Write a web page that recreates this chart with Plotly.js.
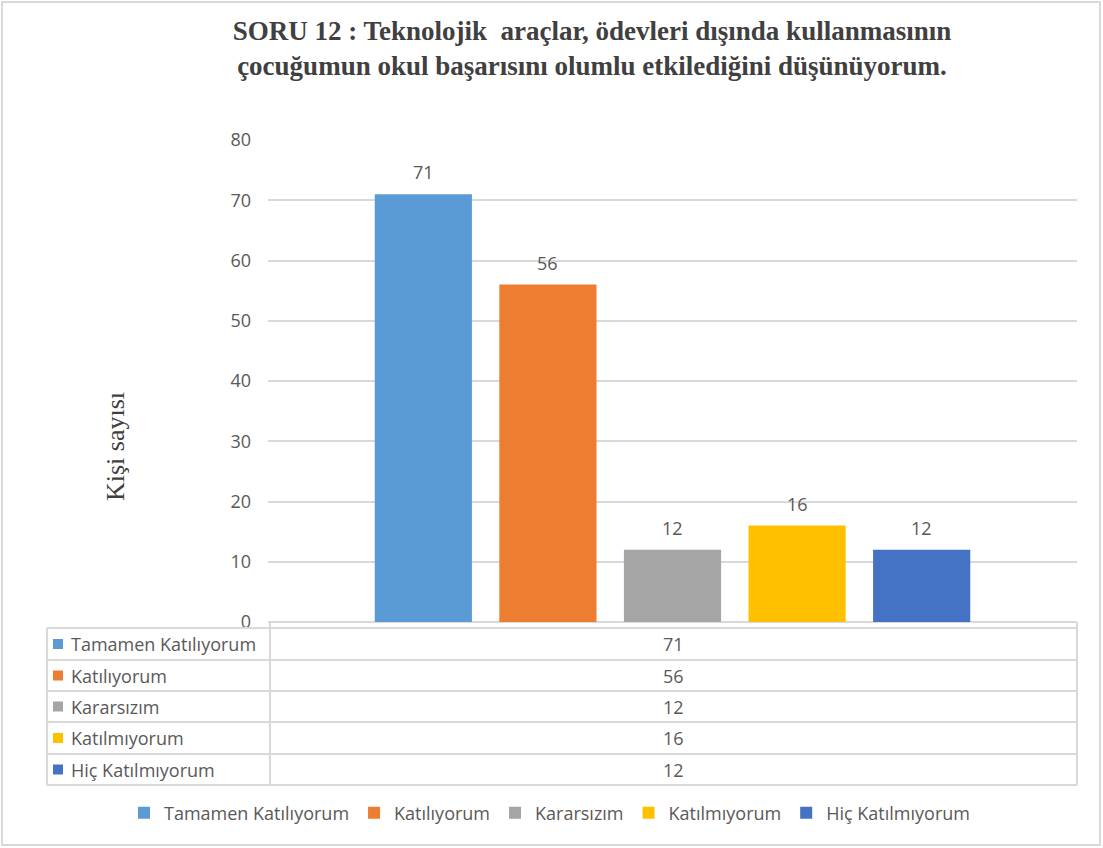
<!DOCTYPE html>
<html>
<head>
<meta charset="utf-8">
<script src="https://cdn.plot.ly/plotly-3.0.1.min.js"></script>
<style>html,body{margin:0;padding:0;background:#fff;}#chart{width:1103px;height:848px;}</style>
</head>
<body>
<div id="chart"></div>
<script>
const categories = ['Tamamen Katılıyorum', 'Katılıyorum', 'Kararsızım', 'Katılmıyorum', 'Hiç Katılmıyorum'];
const values = [71, 56, 12, 16, 12];
const colors = ['#5b9bd5', '#ed7d31', '#a5a5a5', '#ffc000', '#4472c4'];
const yTicks = [0, 10, 20, 30, 40, 50, 60, 70, 80];
const groupLabel = ['SORU 12'];

const W = 1103, H = 848;
const L = 268, R = 1077, T = 140, B = 622;
const px = x => (x - L) / (R - L);
const py = y => (B - y) / (B - T);

const font = 'Open Sans, Noto Sans, sans-serif';
const textColor = '#595959';
const lineColor = '#d9d9d9';
const bargap = 0.23;

const traces = categories.map((c, i) => ({
  type: 'bar',
  name: c,
  x: groupLabel,
  y: [values[i]],
  marker: { color: colors[i] },
  hoverinfo: 'name+y'
}));

const shapes = [];
const annotations = [];

// data labels above bars (positioned on the category axis using group offsets)
const slot = (1 - bargap) / categories.length;
values.forEach((v, i) => {
  annotations.push({
    xref: 'x', yref: 'y', x: (i - (categories.length - 1) / 2) * slot, y: v,
    yshift: 22, yanchor: 'middle', xanchor: 'center',
    text: String(v), showarrow: false,
    font: { family: font, size: 18, color: textColor }
  });
});

// data table
const rowTops = [628, 660, 691, 722, 754, 785];
const tblLeft = 47, tblMid = 270, tblRight = 1077;
rowTops.forEach((y) => {
  shapes.push({ type: 'line', xref: 'paper', yref: 'paper', x0: px(tblLeft), x1: px(tblRight), y0: py(y), y1: py(y), line: { color: lineColor, width: 2 } });
});
shapes.push({ type: 'line', xref: 'paper', yref: 'paper', x0: px(tblLeft), x1: px(tblLeft), y0: py(rowTops[0]), y1: py(rowTops[5]), line: { color: lineColor, width: 2 } });
shapes.push({ type: 'line', xref: 'paper', yref: 'paper', x0: px(tblMid), x1: px(tblMid), y0: py(B), y1: py(rowTops[5]), line: { color: lineColor, width: 2 } });
shapes.push({ type: 'line', xref: 'paper', yref: 'paper', x0: px(tblRight), x1: px(tblRight), y0: py(B), y1: py(rowTops[5]), line: { color: lineColor, width: 2 } });
// outer frame
shapes.push({ type: 'rect', xref: 'paper', yref: 'paper', x0: px(2), x1: px(1100), y0: py(2), y1: py(845), line: { color: lineColor, width: 2 }, layer: 'below' });

categories.forEach((c, i) => {
  const yc = (rowTops[i] + rowTops[i + 1]) / 2;
  shapes.push({ type: 'rect', xref: 'paper', yref: 'paper', x0: px(53), x1: px(63), y0: py(yc - 5), y1: py(yc + 5), fillcolor: colors[i], line: { width: 0 } });
  annotations.push({ xref: 'paper', yref: 'paper', x: px(69), y: py(yc), xanchor: 'left', yanchor: 'middle', text: c, showarrow: false, font: { family: font, size: 18, color: textColor } });
  annotations.push({ xref: 'paper', yref: 'paper', x: px((tblMid + tblRight) / 2), y: py(yc), xanchor: 'center', yanchor: 'middle', text: String(values[i]), showarrow: false, font: { family: font, size: 18, color: textColor } });
});

annotations.push({ xref: 'paper', yref: 'paper', x: px(115), y: py(447), xanchor: 'center', yanchor: 'middle', textangle: -90, text: 'Kişi sayısı', showarrow: false, font: { family: 'Liberation Serif, Times New Roman, serif', size: 26, color: '#404040' } });

const layout = {
  width: W, height: H,
  margin: { l: L, r: W - R, t: T, b: H - B, autoexpand: false },
  paper_bgcolor: '#ffffff',
  plot_bgcolor: '#ffffff',
  title: {
    text: 'SORU 12 : Teknolojik  araçlar, ödevleri dışında kullanmasının<br>çocuğumun okul başarısını olumlu etkilediğini düşünüyorum.',
    x: 592 / W, xanchor: 'center', xref: 'container',
    y: 1 - 40 / H, yanchor: 'middle', yref: 'container',
    font: { family: 'Liberation Serif, Times New Roman, serif', size: 27, color: '#404040', weight: 'bold' }
  },
  barmode: 'group',
  bargap: bargap,
  bargroupgap: 0.22,
  xaxis: { type: 'category', showticklabels: false, showgrid: false, zeroline: false, showline: false, ticks: '' },
  yaxis: {
    range: [0, 80], tickvals: yTicks, ticktext: yTicks.map(String),
    showgrid: true, gridcolor: lineColor, gridwidth: 1.5,
    zeroline: true, zerolinecolor: lineColor, zerolinewidth: 2,
    showline: false, ticks: '', ticklabelstandoff: 16,
    tickfont: { family: font, size: 18, color: textColor }
  },
  showlegend: true,
  legend: {
    orientation: 'h', x: px(124), xanchor: 'left', y: py(813), yanchor: 'middle',
    font: { family: font, size: 18, color: textColor },
    itemwidth: 30, traceorder: 'normal'
  },
  shapes: shapes,
  annotations: annotations
};

Plotly.newPlot('chart', traces, layout, { displayModeBar: false, responsive: false });
</script>
</body>
</html>
